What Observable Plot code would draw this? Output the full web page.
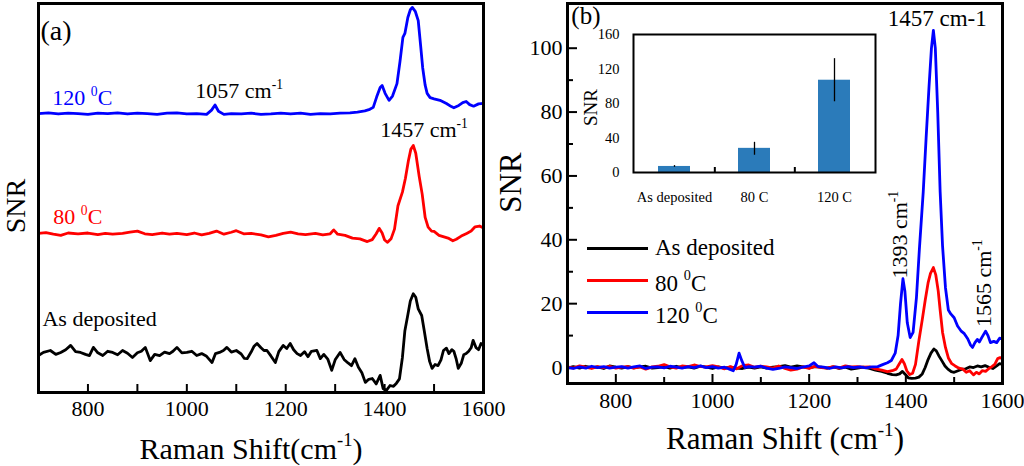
<!DOCTYPE html>
<html><head><meta charset="utf-8">
<script src="https://cdn.jsdelivr.net/npm/d3@7"></script>
<script src="https://cdn.jsdelivr.net/npm/@observablehq/plot@0.6"></script>
<style>
body{margin:0;background:#fff}
#wrap{position:relative;width:1024px;height:466px;overflow:hidden;font-family:'Liberation Serif','Times New Roman',serif;color:#000}
#wrap svg{position:absolute}
.legend{position:absolute;left:587px;top:232px;font-size:23px;line-height:32px}
.legend .row{display:flex;align-items:center;height:32px}
.legend .sw{width:61px;height:3px;margin-right:7px}
.legend sup{font-size:0.62em;position:relative;top:-0.1em}
</style></head>
<body><div id="wrap"></div>
<script>
// ---------- shared ticks ----------
const shiftTicks = [800, 1000, 1200, 1400, 1600];
const shiftMinor = [900, 1100, 1300, 1500];
const snrTicksB = [0, 20, 40, 60, 80, 100];
const snrMinorB = [10, 30, 50, 70, 90];

// ---------- panel (a): offset spectra (arbitrary stacked units) ----------
const a120 = [[700,71.7],[720,71.9],[740,71.6],[760,71.8],[780,71.7],[800,71.5],[820,71.8],[840,71.7],[860,71.9],[880,71.6],[900,71.8],[920,71.7],[940,71.5],[960,71.8],[980,71.9],[1000,71.6],[1020,71.7],[1040,71.5],[1050,72.6],[1057,73.9],[1064,72.3],[1075,71.5],[1090,71.7],[1110,71.6],[1130,71.8],[1150,71.5],[1170,71.6],[1190,71.8],[1210,71.6],[1230,71.8],[1250,71.5],[1270,71.7],[1290,71.6],[1310,71.8],[1330,71.9],[1345,72.1],[1360,72.4],[1370,72.8],[1377,73.3],[1384,76.0],[1391,78.4],[1395,78.9],[1401,76.9],[1409,75.1],[1416,76.2],[1425,79.4],[1431,85.0],[1437,91.3],[1441,92.3],[1447,96.4],[1452,98.4],[1456,99.0],[1462,98.0],[1468,95.6],[1473,89.0],[1477,83.5],[1482,79.0],[1486,76.9],[1492,75.8],[1500,75.5],[1512,75.1],[1525,74.3],[1535,73.5],[1540,73.2],[1550,73.8],[1558,74.5],[1565,74.8],[1572,74.0],[1580,73.6],[1590,74.2],[1600,74.3]];
const a80 = [[700,40.9],[715,41.1],[730,40.7],[745,40.4],[760,41.0],[780,40.8],[800,41.0],[820,40.6],[835,40.9],[850,40.7],[870,40.9],[885,41.2],[900,41.5],[915,40.8],[930,40.6],[950,41.0],[965,40.7],[980,40.9],[1000,40.6],[1015,41.0],[1030,40.5],[1045,40.9],[1060,41.5],[1075,40.7],[1090,41.2],[1100,41.6],[1115,40.8],[1130,40.9],[1150,40.5],[1165,40.0],[1180,40.4],[1195,40.9],[1210,41.2],[1225,40.8],[1240,40.6],[1260,40.9],[1275,40.5],[1290,40.8],[1297,41.8],[1305,40.7],[1320,40.4],[1335,39.7],[1350,39.5],[1365,38.8],[1375,39.3],[1383,40.8],[1389,42.2],[1395,41.0],[1400,39.2],[1406,38.6],[1413,39.5],[1420,42.0],[1427,48.0],[1436,51.5],[1442,55.0],[1448,59.5],[1453,62.5],[1458,63.5],[1463,61.5],[1470,55.5],[1476,51.0],[1482,45.0],[1488,42.5],[1495,41.5],[1500,41.4],[1510,40.4],[1520,40.0],[1530,39.6],[1538,39.0],[1545,39.4],[1555,40.2],[1566,40.9],[1575,41.5],[1583,42.6],[1592,42.8],[1600,42.3]];
const aDep = [[700,9.5],[710,10.3],[724,10.8],[735,9.8],[745,10.3],[755,11.0],[765,12.1],[775,10.5],[785,10.3],[795,9.8],[803,9.5],[811,11.6],[820,10.2],[830,9.5],[840,10.6],[850,10.3],[860,9.7],[870,10.8],[880,10.1],[890,9.0],[900,10.2],[908,10.6],[916,11.6],[926,8.2],[935,9.8],[945,9.5],[955,10.4],[965,10.0],[972,10.6],[980,11.6],[990,10.2],[1000,10.3],[1010,10.6],[1020,9.5],[1030,10.0],[1040,9.3],[1051,7.7],[1058,10.0],[1066,10.3],[1074,10.8],[1081,11.6],[1090,10.4],[1100,10.8],[1110,9.9],[1116,8.8],[1122,8.7],[1130,10.4],[1136,11.9],[1142,12.6],[1150,11.5],[1156,10.8],[1162,10.8],[1170,9.4],[1179,7.7],[1186,10.5],[1195,12.1],[1202,11.3],[1209,12.6],[1216,11.0],[1223,10.0],[1230,9.5],[1238,10.5],[1245,9.2],[1252,10.6],[1263,10.8],[1270,8.7],[1277,9.8],[1285,8.6],[1293,5.7],[1300,8.4],[1310,10.3],[1318,8.5],[1326,7.6],[1333,6.9],[1340,8.7],[1347,6.5],[1354,5.1],[1361,2.6],[1368,3.4],[1375,3.6],[1383,2.2],[1391,4.4],[1397,1.0],[1404,0.6],[1411,1.8],[1418,1.6],[1424,2.4],[1430,3.5],[1436,9.0],[1441,15.9],[1447,20.0],[1452,23.5],[1458,25.4],[1463,24.5],[1468,21.5],[1475,19.8],[1480,16.0],[1486,11.3],[1491,8.0],[1496,6.2],[1502,7.2],[1508,6.9],[1514,8.4],[1519,10.8],[1525,11.4],[1530,10.0],[1536,11.0],[1540,10.6],[1545,8.5],[1549,6.2],[1555,7.5],[1560,9.7],[1565,10.0],[1570,10.6],[1575,11.5],[1579,13.4],[1585,11.5],[1590,11.0],[1595,12.6],[1600,12.1]];

// ---------- panel (b): SNR spectra ----------
const b120 = [[700,0],[712,-0.3],[725,0.2],[738,-0.2],[750,0.4],[762,0],[775,0.3],[787,-0.2],[800,0.1],[812,0.3],[825,-0.2],[837,0.2],[850,0.5],[862,-0.3],[875,0.1],[887,0.2],[900,-0.1],[912,0.4],[925,0.1],[937,-0.2],[950,0.3],[962,0],[975,0.5],[987,0],[1000,0.3],[1012,-0.2],[1025,0.1],[1035,-0.5],[1043,-1.0],[1049,1.0],[1055,4.5],[1061,2.0],[1067,0.0],[1075,0.3],[1087,0.1],[1100,0.4],[1112,-0.2],[1125,-0.6],[1137,-0.3],[1150,0.2],[1162,0],[1175,-0.3],[1187,0.1],[1200,0.5],[1210,1.5],[1218,0.3],[1230,0.1],[1242,-0.3],[1255,0.2],[1267,-0.1],[1280,0.3],[1292,0],[1305,0.2],[1317,-0.1],[1330,0.2],[1342,0.3],[1352,0.9],[1362,1.5],[1370,2.2],[1378,4.5],[1384,10.0],[1389,20.0],[1394,27.8],[1398,24.0],[1403,14.0],[1409,9.4],[1415,11.0],[1422,22.0],[1428,37.0],[1436,55.0],[1442,72.0],[1448,88.0],[1453,100.0],[1457,105.6],[1461,100.0],[1466,80.0],[1471,55.0],[1476,38.0],[1482,25.0],[1488,18.0],[1493,16.8],[1500,15.6],[1507,13.0],[1514,11.5],[1521,10.6],[1528,9.0],[1534,7.0],[1538,6.3],[1543,7.8],[1548,8.8],[1552,8.0],[1558,9.6],[1565,11.4],[1570,10.0],[1575,7.8],[1582,8.2],[1588,7.8],[1594,9.2],[1600,9.0]];
const b80 = [[700,0.2],[712,-0.2],[725,0.5],[737,0.1],[750,-0.3],[762,0.3],[775,0],[787,0.4],[800,-0.2],[812,0.1],[825,0.3],[837,-0.2],[850,0.2],[862,-0.5],[875,0.2],[887,0.4],[900,0.9],[912,0.2],[925,-0.2],[937,0.5],[950,0.3],[962,0.8],[975,0.3],[987,0.2],[1000,0.6],[1012,0.2],[1025,-0.4],[1037,0.3],[1050,-0.4],[1062,0.6],[1075,0.8],[1087,0.1],[1100,0.4],[1112,0.2],[1125,-0.2],[1137,0.5],[1150,-0.3],[1162,-0.8],[1175,-0.5],[1187,0.2],[1200,-0.3],[1212,0.4],[1225,0],[1237,-0.2],[1250,0.3],[1262,-0.2],[1275,0.5],[1287,0.2],[1300,0.3],[1312,0.1],[1325,0.2],[1337,-0.4],[1350,-0.8],[1362,-1.3],[1372,-1.0],[1380,-0.5],[1386,1.0],[1392,2.5],[1397,1.2],[1402,-1.0],[1408,-2.2],[1414,-1.8],[1420,1.0],[1427,8.4],[1434,15.0],[1440,21.0],[1446,26.5],[1451,29.5],[1457,31.3],[1462,29.0],[1467,24.0],[1471,18.0],[1476,11.0],[1482,6.3],[1488,3.0],[1495,1.2],[1502,0.5],[1510,-0.2],[1518,-0.5],[1525,-1.5],[1532,-1.0],[1540,-2.3],[1546,-1.5],[1552,-2.0],[1558,-1.0],[1565,-1.2],[1572,-0.3],[1578,0.3],[1584,1.0],[1590,2.8],[1595,3.1],[1600,2.8]];
const bDep = [[700,-0.2],[712,0.3],[725,-0.2],[737,0.4],[750,0],[762,0.2],[775,-0.3],[787,0.5],[800,0.1],[812,-0.2],[825,0.3],[837,-0.1],[850,0.2],[862,0.4],[875,-0.2],[887,0],[900,0.3],[912,-0.2],[925,0.4],[937,0],[950,0.2],[962,-0.2],[975,0.4],[987,0.1],[1000,-0.3],[1012,0.2],[1025,-0.2],[1037,0.1],[1050,-0.2],[1062,-0.3],[1075,0.1],[1087,-0.2],[1100,0.2],[1112,-0.2],[1125,0.1],[1137,0.3],[1150,0.6],[1162,0.1],[1175,0.5],[1187,0.2],[1200,-0.1],[1212,0.3],[1225,0.1],[1237,-0.2],[1250,0.2],[1262,-0.3],[1275,0.1],[1287,-0.5],[1300,-0.2],[1312,0.1],[1325,-0.3],[1337,-0.8],[1350,-1.2],[1362,-1.8],[1372,-2.2],[1380,-2.3],[1387,-2.0],[1393,-1.2],[1398,-2.0],[1405,-3.2],[1412,-3.4],[1420,-3.3],[1427,-3.0],[1434,-2.0],[1440,0.0],[1446,2.5],[1452,4.5],[1458,5.8],[1463,5.2],[1469,3.5],[1475,2.0],[1481,0.5],[1487,-0.5],[1494,-1.3],[1500,-1.5],[1508,-1.0],[1516,-0.5],[1524,-0.4],[1532,0.2],[1540,0],[1548,0.5],[1556,0.2],[1564,0.6],[1572,0.1],[1580,-0.3],[1588,0.5],[1594,1.2],[1600,1.0]];

// ---------- inset bar chart ----------
const insetCats = ["As deposited", "80 C", "120 C"];
const insetSNR = [7, 28, 107];
const insetLow = [6, 20, 82];
const insetHigh = [8, 35, 132];
const insetTicks = [0, 40, 80, 120, 160];

// ---------- legend ----------
const legendLabels = ["As deposited", "80 <sup>0</sup>C", "120 <sup>0</sup>C"];
const legendColors = ["#000000", "#ff0000", "#0000ff"];

const FONT = "'Liberation Serif','Times New Roman',serif";
const fmt = d3.format("d");
const pts = a => a.map(([x, y]) => ({x, y}));
const wrap = document.getElementById("wrap");

function place(svg, left, top) {
  svg.style.left = left + "px";
  svg.style.top = top + "px";
  wrap.appendChild(svg);
}
function superscripts(svg) {
  svg.querySelectorAll("text").forEach(t => {
    const s = t.textContent;
    if (!s.includes("^{")) return;
    const fs = parseFloat(getComputedStyle(t).fontSize) || 20;
    t.textContent = "";
    s.split(/\^\{([^}]*)\}/).forEach((p, i) => {
      if (!p) return;
      const ts = document.createElementNS("http://www.w3.org/2000/svg", "tspan");
      ts.textContent = p;
      if (i % 2) {
        ts.setAttribute("font-size", (0.62 * fs).toFixed(1) + "px");
        ts.setAttribute("baseline-shift", (0.42 * fs).toFixed(1) + "px");
      }
      t.appendChild(ts);
    });
  });
}
const baseStyle = {fontFamily: FONT, background: "transparent", color: "black", overflow: "visible"};
const lbl = (x, y, text) => [{x, y, text}];

// ================= Panel (a) =================
const A = {w: 500, h: 466, ml: 38, mr: 17, mt: 3, mb: 74};
const fhA = A.h - A.mt - A.mb;
const plotA = Plot.plot({
  width: A.w, height: A.h, marginLeft: A.ml, marginRight: A.mr, marginTop: A.mt, marginBottom: A.mb,
  style: baseStyle,
  x: {domain: [700, 1600]},
  y: {domain: [0, 100], axis: null},
  marks: [
    Plot.axisX(shiftTicks, {tickSize: 0, tickPadding: 8, fontSize: 22, tickFormat: fmt, label: null}),
    Plot.ruleX([...shiftTicks, ...shiftMinor], {insetTop: fhA - 8, strokeWidth: 2}),
    Plot.line(pts(aDep), {x: "x", y: "y", stroke: "#000", strokeWidth: 2.8}),
    Plot.line(pts(a80), {x: "x", y: "y", stroke: "#ff0000", strokeWidth: 2.8}),
    Plot.line(pts(a120), {x: "x", y: "y", stroke: "#0000ff", strokeWidth: 2.8}),
    Plot.frame({strokeWidth: 3}),
    Plot.text(["Raman Shift(cm^{-1})"], {frameAnchor: "bottom", textAnchor: "middle", dx: -10, dy: 66, lineAnchor: "bottom", fontSize: 30}),
    Plot.text(["SNR"], {frameAnchor: "left", textAnchor: "middle", dx: -22, dy: 8, rotate: -90, fontSize: 28}),
    Plot.text(lbl(704, 90.5, "(a)"), {x: "x", y: "y", text: "text", textAnchor: "start", lineAnchor: "bottom", fontSize: 28}),
    Plot.text(lbl(728, 74.0, "120 ^{0}C"), {x: "x", y: "y", text: "text", textAnchor: "start", lineAnchor: "bottom", fontSize: 22, fill: "#0000ff"}),
    Plot.text(lbl(1017, 75.6, "1057 cm^{-1}"), {x: "x", y: "y", text: "text", textAnchor: "start", lineAnchor: "bottom", fontSize: 22}),
    Plot.text(lbl(1391, 65.6, "1457 cm^{-1}"), {x: "x", y: "y", text: "text", textAnchor: "start", lineAnchor: "bottom", fontSize: 22}),
    Plot.text(lbl(730, 43.4, "80 ^{0}C"), {x: "x", y: "y", text: "text", textAnchor: "start", lineAnchor: "bottom", fontSize: 22, fill: "#ff0000"}),
    Plot.text(lbl(708, 17.0, "As deposited"), {x: "x", y: "y", text: "text", textAnchor: "start", lineAnchor: "bottom", fontSize: 22})
  ]
});
place(plotA, 0, 0);

// ================= Panel (b) =================
const B = {w: 524, h: 466, ml: 67, mr: 22, mt: 3, mb: 83};
const fhB = B.h - B.mt - B.mb, fwB = B.w - B.ml - B.mr;
const plotB = Plot.plot({
  width: B.w, height: B.h, marginLeft: B.ml, marginRight: B.mr, marginTop: B.mt, marginBottom: B.mb,
  style: baseStyle,
  x: {domain: [700, 1600]},
  y: {domain: [-5, 114]},
  marks: [
    Plot.axisX(shiftTicks, {tickSize: 0, tickPadding: 9, fontSize: 22, tickFormat: fmt, label: null}),
    Plot.axisY(snrTicksB, {tickSize: 0, tickPadding: 5, fontSize: 22, tickFormat: fmt, label: null}),
    Plot.ruleX(shiftTicks, {insetTop: fhB - 9, strokeWidth: 2}),
    Plot.ruleX(shiftMinor, {insetTop: fhB - 6, strokeWidth: 2}),
    Plot.ruleY(snrTicksB, {insetRight: fwB - 10, strokeWidth: 2}),
    Plot.ruleY(snrMinorB, {insetRight: fwB - 6, strokeWidth: 2}),
    Plot.line(pts(bDep), {x: "x", y: "y", stroke: "#000", strokeWidth: 2.8}),
    Plot.line(pts(b80), {x: "x", y: "y", stroke: "#ff0000", strokeWidth: 2.8}),
    Plot.line(pts(b120), {x: "x", y: "y", stroke: "#0000ff", strokeWidth: 2.8}),
    Plot.frame({strokeWidth: 3}),
    Plot.text(["Raman Shift (cm^{-1})"], {frameAnchor: "bottom", textAnchor: "middle", dy: 65, lineAnchor: "bottom", fontSize: 31}),
    Plot.text(["SNR"], {frameAnchor: "left", textAnchor: "middle", dx: -56, dy: -11, rotate: -90, fontSize: 31}),
    Plot.text(lbl(708, 107.5, "(b)"), {x: "x", y: "y", text: "text", textAnchor: "start", lineAnchor: "bottom", fontSize: 25}),
    Plot.text(lbl(1465, 106.9, "1457 cm-1"), {x: "x", y: "y", text: "text", textAnchor: "middle", lineAnchor: "bottom", fontSize: 23}),
    Plot.text(lbl(1388, 41.6, "1393 cm^{-1}"), {x: "x", y: "y", text: "text", rotate: -90, fontSize: 22}),
    Plot.text(lbl(1562, 26.4, "1565 cm^{-1}"), {x: "x", y: "y", text: "text", rotate: -90, fontSize: 22})
  ]
});
place(plotB, 500, 0);

// ================= Inset =================
const I = {w: 330, h: 200, ml: 73, mr: 15, mt: 14, mb: 48};
const fhI = I.h - I.mt - I.mb, fwI = I.w - I.ml - I.mr;
const insetRows = insetCats.map((c, i) => ({cat: c, snr: insetSNR[i], lo: insetLow[i], hi: insetHigh[i]}));
const stepI = fwI / insetCats.length;
const plotI = Plot.plot({
  width: I.w, height: I.h, marginLeft: I.ml, marginRight: I.mr, marginTop: I.mt, marginBottom: I.mb,
  style: baseStyle,
  x: {type: "band", domain: insetCats, paddingInner: 0.6, paddingOuter: 0.3},
  y: {domain: [0, 160]},
  marks: [
    Plot.axisX({tickSize: 0, tickPadding: 19, fontSize: 14.5, label: null}),
    Plot.axisY(insetTicks, {tickSize: 0, tickPadding: 14, fontSize: 14.5, tickFormat: fmt, label: null}),
    Plot.barY(insetRows, {x: "cat", y: "snr", fill: "#2b7bba"}),
    Plot.ruleX(insetRows, {x: "cat", y1: "lo", y2: "hi", stroke: "#000", strokeWidth: 1.3}),
    Plot.ruleX(insetCats.slice(0, 2), {x: d => d, dx: stepI / 2, insetTop: fhI - 5, strokeWidth: 2}),
    Plot.frame({strokeWidth: 2}),
    Plot.text(["SNR"], {frameAnchor: "left", textAnchor: "middle", dx: -43, dy: 4, rotate: -90, fontSize: 19})
  ]
});
place(plotI, 560, 20);

// ================= Legend =================
const leg = document.createElement("div");
leg.className = "legend";
leg.innerHTML = legendLabels.map((t, i) =>
  `<div class="row"><div class="sw" style="background:${legendColors[i]}"></div><span>${t}</span></div>`).join("");
wrap.appendChild(leg);

[plotA, plotB, plotI].forEach(superscripts);
</script>
</body></html>
